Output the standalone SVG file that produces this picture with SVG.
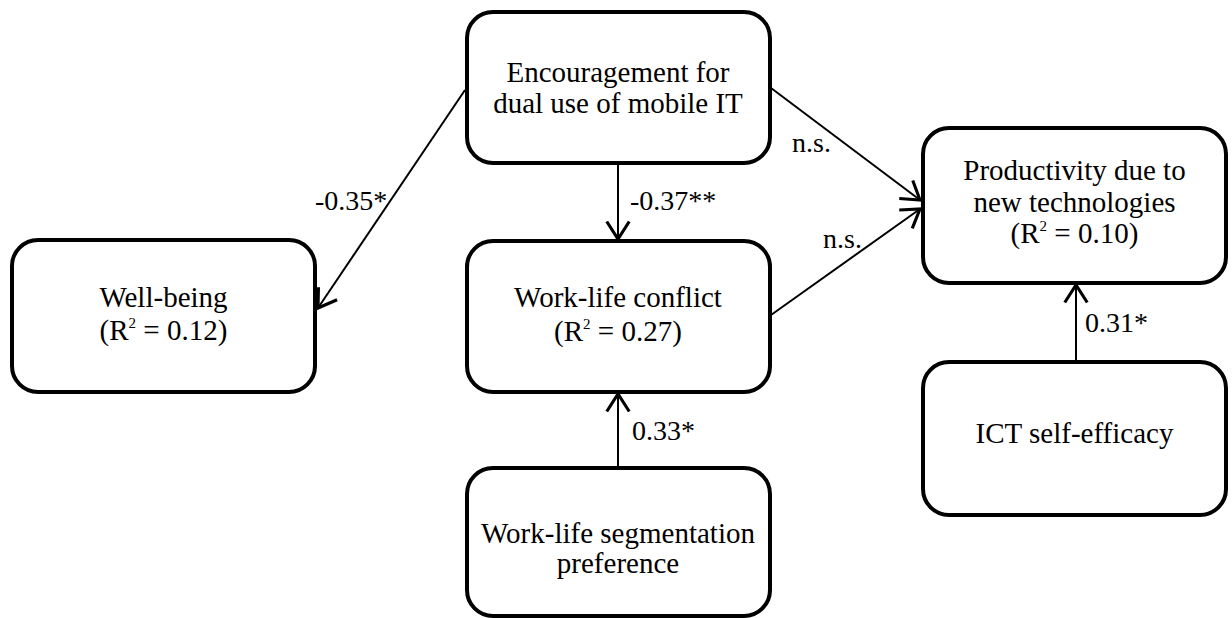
<svg xmlns="http://www.w3.org/2000/svg" width="1232" height="618" viewBox="0 0 1232 618">
<style>
.box{fill:#fff;stroke:#000;stroke-width:4}
.t{font-family:'Liberation Serif','Times New Roman',serif;font-size:29px;fill:#000;text-anchor:middle}
.lbl{font-family:'Liberation Serif','Times New Roman',serif;font-size:28px;fill:#000}
.sup{font-size:15px}
.c{fill:none;stroke:#000;stroke-width:2}
</style>
<defs>
<marker id="ah" markerUnits="userSpaceOnUse" markerWidth="30" markerHeight="30" viewBox="-16 -12 20 24" refX="0" refY="0" orient="auto">
<path d="M-14,-9 L0,0 L-14,9" fill="none" stroke="#000" stroke-width="2.5"/>
</marker>
</defs>
<rect width="1232" height="618" fill="#fff"/>
<g id="connectors">
<path class="c" d="M618,164 L618,239" marker-end="url(#ah)"/>
<path class="c" d="M618,466 L618,394" marker-end="url(#ah)"/>
<path class="c" d="M1076,360 L1076,285" marker-end="url(#ah)"/>
<path class="c" d="M465,90 L318,308" marker-end="url(#ah)"/>
<path class="c" d="M771,88 L920,200" marker-end="url(#ah)"/>
<path class="c" d="M771,315 L920,209" marker-end="url(#ah)"/>
<text class="lbl" x="630" y="210">-0.37**</text>
<text class="lbl" x="632" y="440">0.33*</text>
<text class="lbl" x="1085" y="332">0.31*</text>
<text class="lbl" x="315" y="210">-0.35*</text>
<text class="lbl" x="792" y="152">n.s.</text>
<text class="lbl" x="823" y="248">n.s.</text>
</g>
<g id="encouragement">
<rect class="box" x="467" y="12" width="303" height="151" rx="26"/>
<text class="t" x="618" y="82">Encouragement for</text>
<text class="t" x="618" y="113">dual use of mobile IT</text>
</g>
<g id="wellbeing">
<rect class="box" x="12" y="240" width="303" height="152" rx="26"/>
<text class="t" x="163.5" y="307">Well-being</text>
<text class="t" x="163.5" y="340">(R<tspan class="sup" dy="-12">2</tspan><tspan dy="12"> = 0.12)</tspan></text>
</g>
<g id="worklifeconflict">
<rect class="box" x="467" y="241" width="303" height="151" rx="26"/>
<text class="t" x="618" y="307">Work-life conflict</text>
<text class="t" x="618" y="341">(R<tspan class="sup" dy="-12">2</tspan><tspan dy="12"> = 0.27)</tspan></text>
</g>
<g id="productivity">
<rect class="box" x="923" y="128" width="303" height="155" rx="26"/>
<text class="t" x="1074.5" y="180">Productivity due to</text>
<text class="t" x="1074.5" y="212">new technologies</text>
<text class="t" x="1074.5" y="243">(R<tspan class="sup" dy="-12">2</tspan><tspan dy="12"> = 0.10)</tspan></text>
</g>
<g id="ict">
<rect class="box" x="923" y="362" width="303" height="153" rx="26"/>
<text class="t" x="1074.5" y="443">ICT self-efficacy</text>
</g>
<g id="segmentation">
<rect class="box" x="467" y="468" width="303" height="148" rx="26"/>
<text class="t" x="618" y="543">Work-life segmentation</text>
<text class="t" x="618" y="573">preference</text>
</g>
</svg>
